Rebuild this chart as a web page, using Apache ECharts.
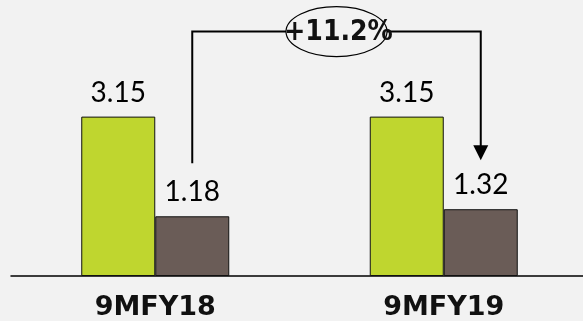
<!DOCTYPE html>
<html>
<head>
<meta charset="utf-8">
<script src="https://cdn.jsdelivr.net/npm/echarts@6/dist/echarts.min.js"></script>
<style>
  html, body { margin: 0; padding: 0; background: #f2f2f2; width: 583px; height: 321px; overflow: hidden; }
  #chart { width: 588px; height: 321px; }
</style>
</head>
<body>
<div id="chart"></div>
<script>
// Periods and values
const categories = ['9MFY18', '9MFY19'];
const seriesA = [3.15, 3.15];
const seriesB = [1.18, 1.32];

// Growth bracket between the two brown bars (values on the y scale)
const growthLabel = '+11.2%';
const bracketStart = 2.23;   // left leg starts above the 9MFY18 bar
const bracketTop = 4.83;     // horizontal run
const bracketEnd = 2.29;     // arrow tip above the 9MFY19 bar

const BAR_W = 74;

const chart = echarts.init(document.getElementById('chart'), null, { renderer: 'canvas' });

const labelStyle = {
  show: true,
  position: 'top',
  distance: 10,
  fontFamily: 'Lato',
  fontSize: 28,
  color: '#000'
};

chart.setOption({
  backgroundColor: '#f2f2f2',
  animation: false,
  // the axis line runs past the right edge of the visible page
  grid: { left: 11, right: 0, top: 23, bottom: 45 },
  xAxis: {
    type: 'category',
    data: categories,
    axisLine: { lineStyle: { color: '#000', width: 1.5 } },
    axisTick: { show: false },
    axisLabel: {
      margin: 18,
      fontFamily: 'DejaVu Sans',
      fontWeight: 'bold',
      fontSize: 27,
      color: '#111'
    }
  },
  yAxis: { type: 'value', min: 0, max: 5, show: false },
  series: [
    {
      type: 'bar',
      data: seriesA,
      barWidth: BAR_W,
      barGap: '0%',
      itemStyle: { color: '#bfd62f', borderColor: '#111', borderWidth: 1 },
      label: labelStyle
    },
    {
      type: 'bar',
      data: seriesB,
      barWidth: BAR_W,
      itemStyle: { color: '#6a5c57', borderColor: '#111', borderWidth: 1 },
      label: labelStyle
    }
  ]
});

// Bracket connecting the second-series bars, placed through the chart's scales
const p0 = chart.convertToPixel({ seriesIndex: 1 }, [0, bracketStart]);
const p1 = chart.convertToPixel({ seriesIndex: 1 }, [1, bracketEnd]);
const pt = chart.convertToPixel({ seriesIndex: 1 }, [0, bracketTop]);
const xL = p0[0] + BAR_W / 2;
const xR = p1[0] + BAR_W / 2;
const yTop = pt[1];
const yStart = p0[1];
const yTip = p1[1];
const cx = (xL + xR) / 2;
const rx = 50.5, ry = 25;
const head = 15;

chart.setOption({
  graphic: [
    {
      type: 'polyline',
      shape: { points: [[xL, yStart], [xL, yTop], [cx - rx, yTop]] },
      style: { stroke: '#000', lineWidth: 2, fill: null }
    },
    {
      type: 'polyline',
      shape: { points: [[cx + rx, yTop], [xR, yTop], [xR, yTip - head + 1]] },
      style: { stroke: '#000', lineWidth: 2, fill: null }
    },
    {
      type: 'polygon',
      shape: { points: [[xR - 7.5, yTip - head], [xR + 7.5, yTip - head], [xR, yTip]] },
      style: { fill: '#000' }
    },
    {
      type: 'ellipse',
      shape: { cx: cx, cy: yTop, rx: rx, ry: ry },
      style: { stroke: '#000', lineWidth: 1.2, fill: null }
    },
    {
      type: 'text',
      x: cx + 2,
      y: yTop + 1,
      style: {
        text: growthLabel,
        fontFamily: 'DejaVu Sans Condensed',
        fontWeight: 'bold',
        fontSize: 28,
        fill: '#111',
        align: 'center',
        verticalAlign: 'middle'
      }
    }
  ]
});
</script>
</body>
</html>
